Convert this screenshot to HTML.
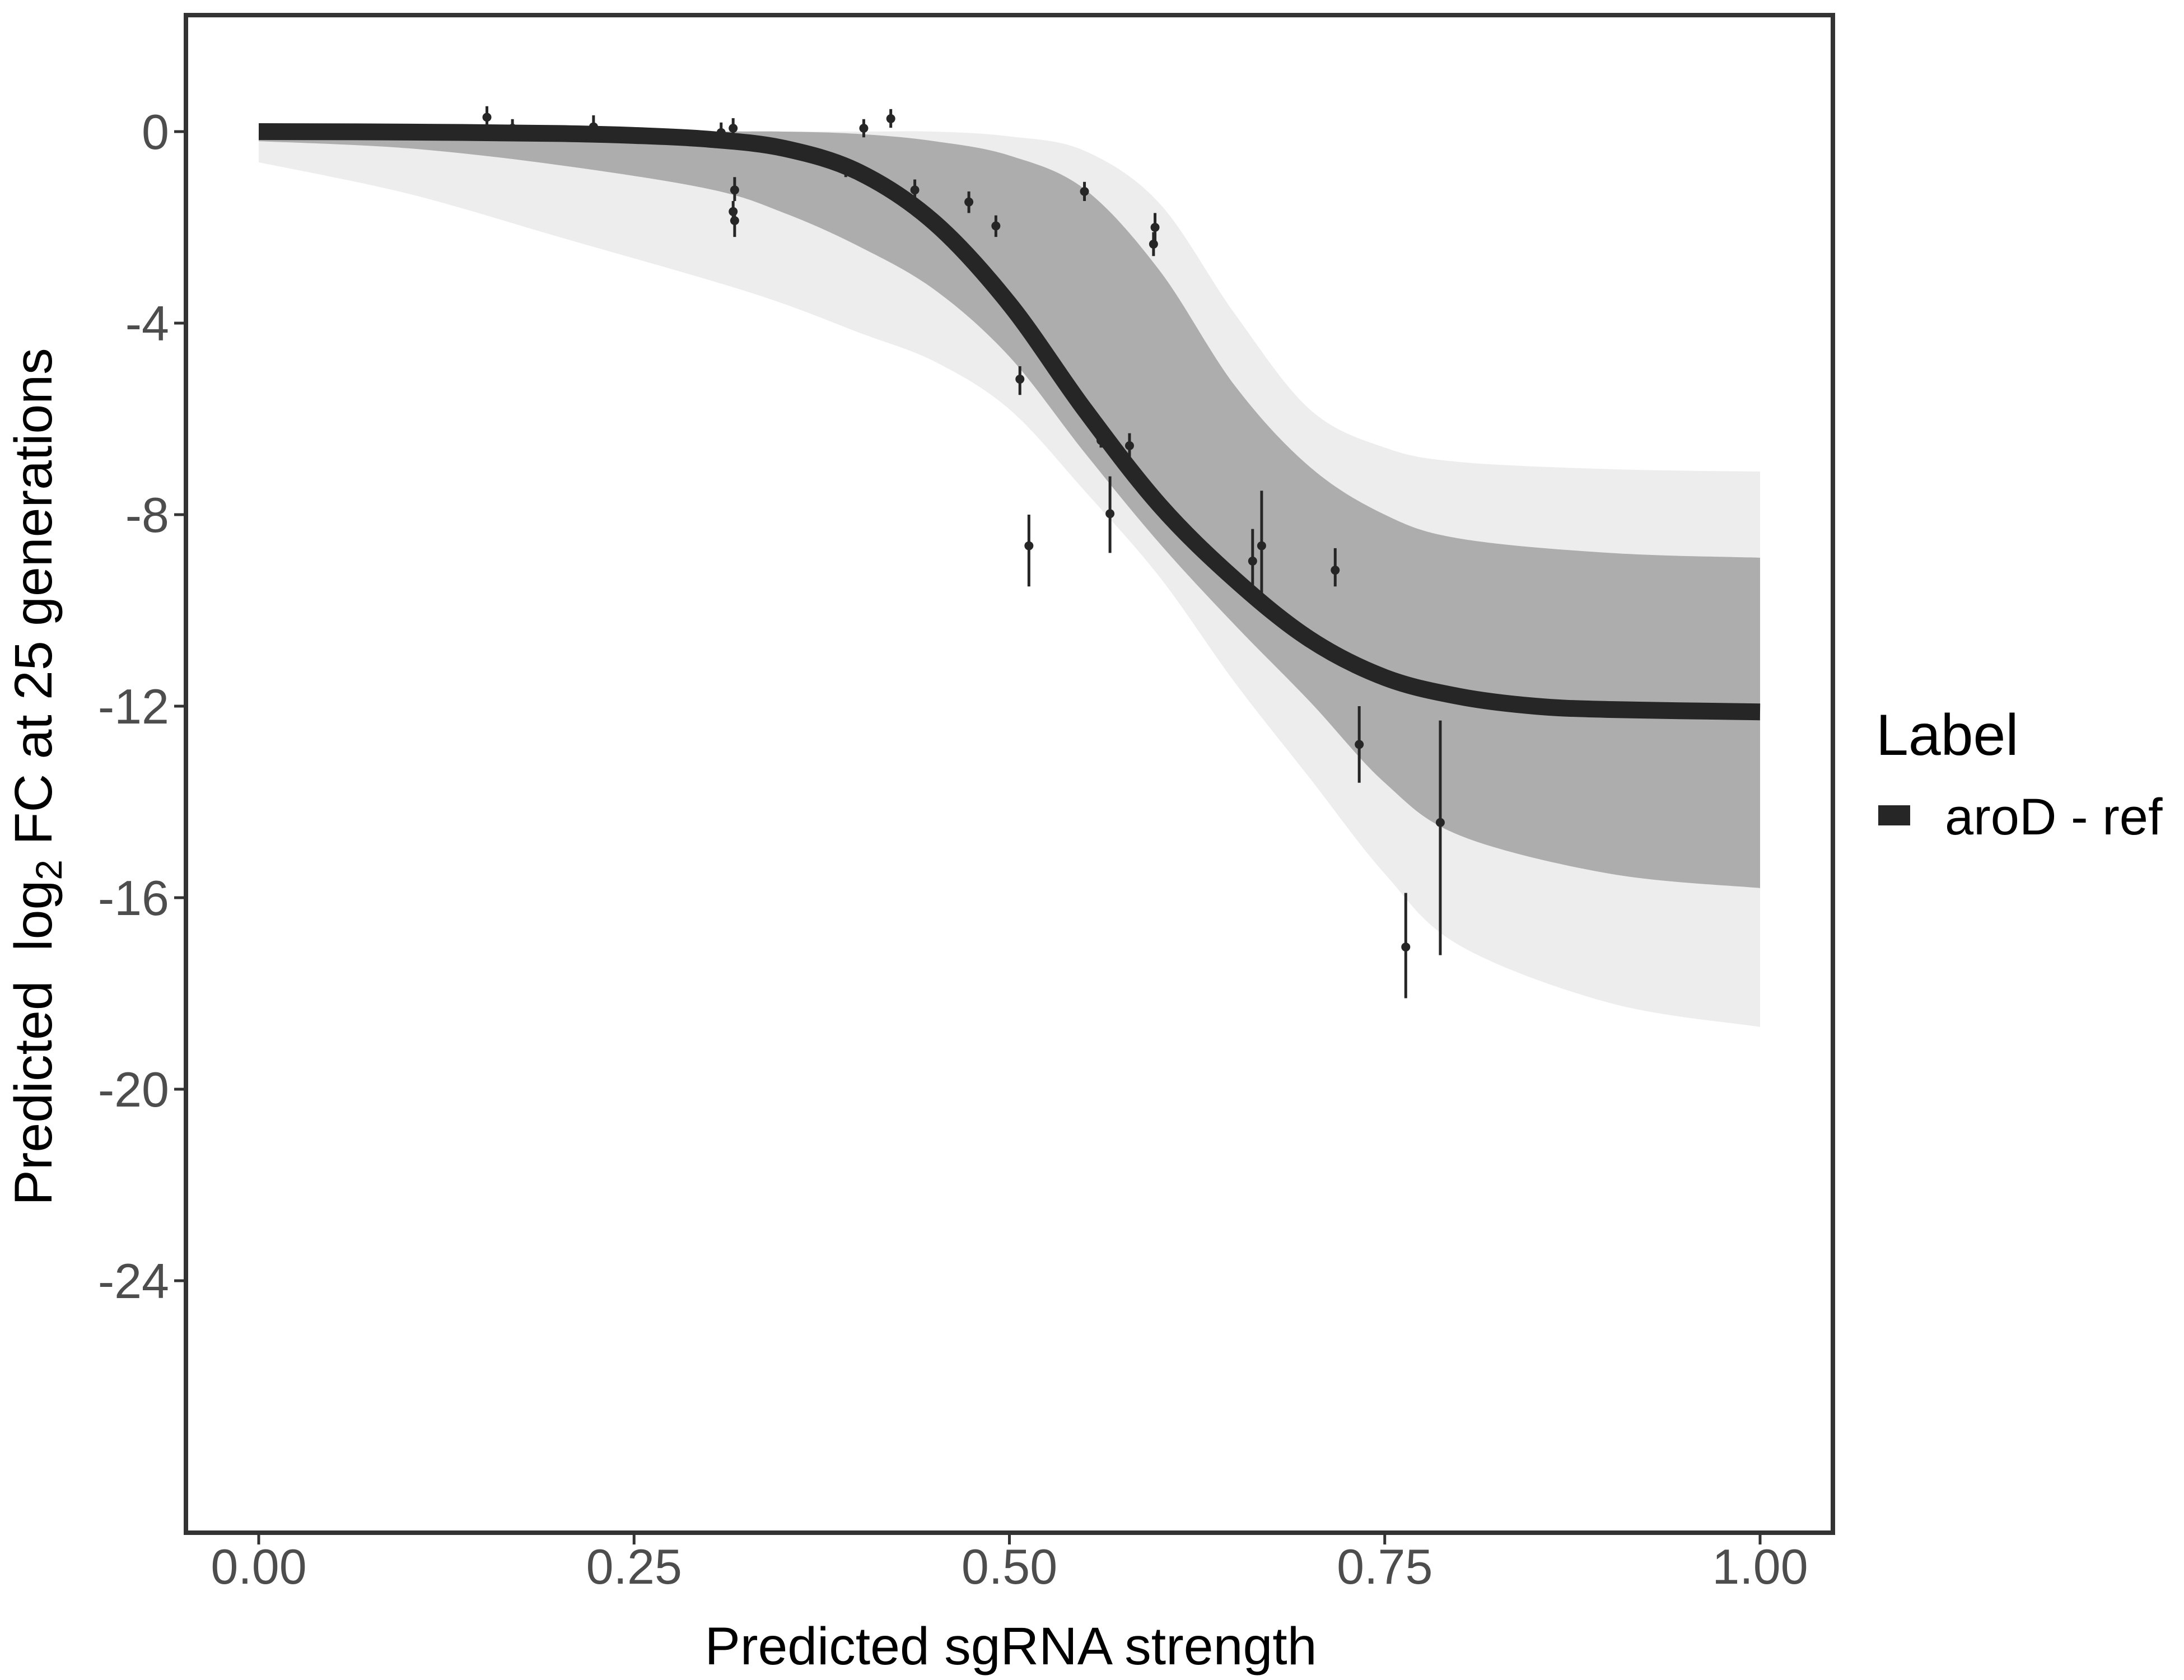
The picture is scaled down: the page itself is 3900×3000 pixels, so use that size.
<!DOCTYPE html>
<html><head><meta charset="utf-8">
<style>
html,body{margin:0;padding:0;background:#fff;}
svg{display:block;font-family:"Liberation Sans",sans-serif;}
</style></head>
<body>
<svg id="chart" width="3900" height="3000" viewBox="0 0 3900 3000" xmlns="http://www.w3.org/2000/svg">
<rect x="0" y="0" width="3900" height="3000" fill="#fff"/>
<g id="bands"></g>
<g id="mainline"></g>
<g id="points"></g>
<rect x="332" y="27" width="2941" height="2710" fill="none" stroke="#333" stroke-width="8"/>
<g id="xaxis"></g>
<g id="yaxis"></g>
<text x="1805" y="2972" font-size="95" text-anchor="middle" fill="#000">Predicted sgRNA strength</text>
<text transform="translate(92,1387) rotate(-90)" font-size="95" text-anchor="middle" fill="#000">Predicted&#160; log<tspan font-size="66" dy="18">2</tspan><tspan dy="-18"> FC at 25 generations</tspan></text>
<g>
<text x="3350" y="1348" font-size="104" fill="#000">Label</text>
<rect x="3354" y="1438" width="57" height="36" fill="#262626"/>
<text x="3473" y="1490" font-size="92" fill="#000">aroD - ref</text>
</g>
</svg>
<script>
const xTicks = [0, 0.25, 0.5, 0.75, 1];
const xTickLabels = ["0.00", "0.25", "0.50", "0.75", "1.00"];
const yTicks = [0, -4, -8, -12, -16, -20, -24];
const yTickLabels = ["0", "-4", "-8", "-12", "-16", "-20", "-24"];

const curveX = [0, 0.1, 0.2, 0.25, 0.3, 0.35, 0.4, 0.45, 0.5, 0.55, 0.6, 0.65, 0.7, 0.75, 0.8, 0.85, 0.9, 1.0];
const curveY = [0, -0.01, -0.04, -0.08, -0.16, -0.35, -0.85, -1.9, -3.6, -5.8, -7.8, -9.35, -10.6, -11.4, -11.8, -12.0, -12.07, -12.12];

const bandX = [0, 0.1, 0.2, 0.3, 0.35, 0.4, 0.45, 0.5, 0.55, 0.6, 0.65, 0.7, 0.75, 0.8, 0.9, 1.0];
const denseUpper = [0, 0, 0, 0, 0, -0.05, -0.2, -0.5, -1.2, -2.9, -5.3, -7.0, -8.0, -8.5, -8.8, -8.9];
const denseLower = [-0.2, -0.35, -0.7, -1.2, -1.7, -2.4, -3.3, -4.7, -6.7, -8.6, -10.3, -11.9, -13.6, -14.7, -15.5, -15.8];
const outerUpper = [0, 0, 0, 0, 0, 0, 0, -0.1, -0.4, -1.5, -3.8, -5.8, -6.6, -6.9, -7.05, -7.1];
const outerLower = [-0.64, -1.3, -2.2, -3.1, -3.6, -4.2, -4.8, -5.8, -7.5, -9.3, -11.5, -13.5, -15.5, -17.0, -18.2, -18.7];

const ptX = [0.152, 0.169, 0.223, 0.308, 0.316, 0.317, 0.316, 0.317, 0.391, 0.403, 0.421, 0.437, 0.473, 0.491, 0.507, 0.513, 0.550, 0.561, 0.580, 0.567, 0.597, 0.596, 0.662, 0.668, 0.717, 0.733, 0.764, 0.787];
const ptY = [0.30, 0.07, 0.10, -0.02, 0.07, -1.22, -1.67, -1.86, -0.76, 0.07, 0.27, -1.22, -1.47, -1.97, -5.17, -8.65, -1.25, -6.45, -6.56, -7.98, -2.0, -2.35, -8.97, -8.65, -9.16, -12.8, -17.03, -14.43];
const ptLo = [0.08, -0.1, -0.12, -0.23, -0.15, -1.45, -1.85, -2.2, -0.95, -0.12, 0.08, -1.45, -1.7, -2.2, -5.5, -9.5, -1.45, -6.6, -6.95, -8.8, -2.3, -2.6, -9.7, -9.9, -9.5, -13.6, -18.1, -17.2];
const ptHi = [0.53, 0.26, 0.34, 0.19, 0.28, -0.95, -1.45, -1.6, -0.55, 0.26, 0.47, -1.0, -1.25, -1.75, -4.9, -8.0, -1.05, -6.3, -6.3, -7.2, -1.7, -2.1, -8.3, -7.5, -8.7, -12.0, -15.9, -12.3];

const NS = "http://www.w3.org/2000/svg";
const X0 = 462, X1 = 3143, Y0 = 235, YU = 85.5;
function sx(v){ return X0 + v * (X1 - X0); }
function sy(v){ return Y0 - v * YU; }
function mk(tag, attrs, parent){
  const e = document.createElementNS(NS, tag);
  for (const k in attrs) e.setAttribute(k, attrs[k]);
  parent.appendChild(e);
  return e;
}
function smoothPath(xs, ys){
  const p = xs.map((x,i)=>[sx(x), sy(ys[i])]);
  let d = "M" + p[0][0] + "," + p[0][1];
  for (let i = 0; i < p.length - 1; i++){
    const p0 = p[Math.max(0,i-1)], p1 = p[i], p2 = p[i+1], p3 = p[Math.min(p.length-1,i+2)];
    const c1 = [p1[0] + (p2[0]-p0[0])/6, p1[1] + (p2[1]-p0[1])/6];
    const c2 = [p2[0] - (p3[0]-p1[0])/6, p2[1] - (p3[1]-p1[1])/6];
    d += " C" + c1[0] + "," + c1[1] + " " + c2[0] + "," + c2[1] + " " + p2[0] + "," + p2[1];
  }
  return d;
}
function bandPath(xs, up, lo){
  const a = smoothPath(xs, up);
  const rx = xs.slice().reverse(), rl = lo.slice().reverse();
  const b = smoothPath(rx, rl).replace(/^M/, "L");
  return a + " " + b + " Z";
}
const bands = document.getElementById("bands");
const ob = mk("path", {d: bandPath(bandX, outerUpper, outerLower), fill: "#ededed"}, bands);


const db = mk("path", {d: bandPath(bandX, denseUpper, denseLower), fill: "#adadad"}, bands);



const ml = mk("path", {d: smoothPath(curveX, curveY), fill: "none", stroke: "#262626", "stroke-width": 30, "stroke-linejoin": "round"}, document.getElementById("mainline"));



const pts = document.getElementById("points");
for (let i = 0; i < ptX.length; i++){
  const g = mk("g", {}, pts);
  
  
  const eb = mk("line", {x1: sx(ptX[i]), x2: sx(ptX[i]), y1: sy(ptHi[i]), y2: sy(ptLo[i]), stroke: "#262626", "stroke-width": 5}, g);
  
  
  const c = mk("circle", {cx: sx(ptX[i]), cy: sy(ptY[i]), r: 8, fill: "#262626"}, g);
  
  
}

const xa = document.getElementById("xaxis");
xTicks.forEach((v,i)=>{
  const t = mk("line", {x1: sx(v), x2: sx(v), y1: 2741, y2: 2758, stroke: "#333", "stroke-width": 5}, xa);
  
  
  const l = mk("text", {x: sx(v), y: 2828, "font-size": 88, "text-anchor": "middle", fill: "#4d4d4d"}, xa);
  
  
  l.textContent = xTickLabels[i];
});
const ya = document.getElementById("yaxis");
yTicks.forEach((v,i)=>{
  const t = mk("line", {x1: 311, x2: 328, y1: sy(v), y2: sy(v), stroke: "#333", "stroke-width": 5}, ya);
  
  
  const l = mk("text", {x: 302, y: sy(v) + 31, "font-size": 88, "text-anchor": "end", fill: "#4d4d4d"}, ya);
  
  
  l.textContent = yTickLabels[i];
});
</script>
</body></html>
